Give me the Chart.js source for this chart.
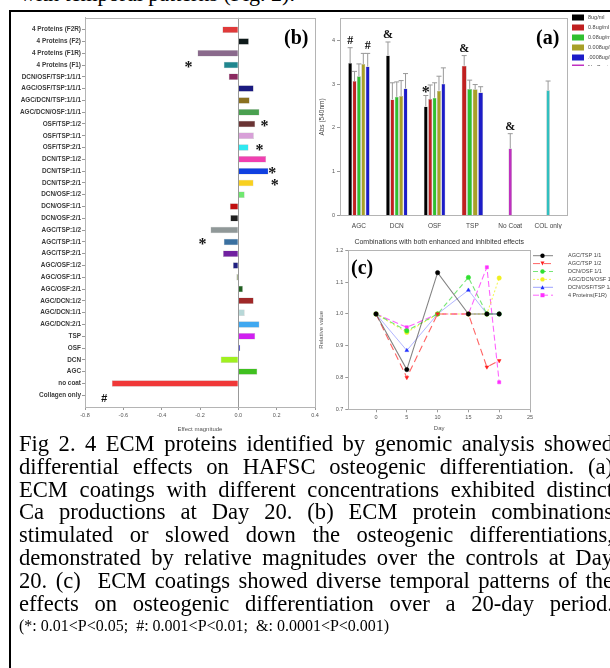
<!DOCTYPE html>
<html>
<head>
<meta charset="utf-8">
<script src="https://cdn.jsdelivr.net/npm/chart.js@4/dist/chart.umd.min.js"></script>
<style>
html, body { margin: 0; padding: 0; background: #fff; width: 610px; height: 668px; overflow: hidden; position: relative; }
.abs { position: absolute; }
canvas { display: block; }
#topline { left: 20px; top: -19px; font-family: "Liberation Serif", serif; font-size: 22px; white-space: nowrap; }
#frame { left: 9px; top: 10px; width: 700px; height: 700px; border: 2px solid #000; }
.plab { font-family: "Liberation Serif", serif; font-weight: bold; font-size: 20px; }
#caption { left: 19px; top: 433px; width: 594px; font-family: "Liberation Serif", serif; font-size: 22.6px; line-height: 22.8px; }
#caption div { text-align: justify; text-align-last: justify; white-space: nowrap; }
#caption div.small { text-align: left; text-align-last: left; font-size: 16px; }
</style>
</head>
<body>
<div class="abs" id="topline">with temporal patterns (Fig. 2).</div>
<div class="abs" id="frame"></div>
<div class="abs" style="left:12px;top:13px;"><canvas id="chartB" width="312" height="420"></canvas></div>
<div class="abs" style="left:318px;top:13px;"><canvas id="chartA" width="320" height="216"></canvas></div>
<div class="abs" style="left:318px;top:229px;"><canvas id="chartC" width="320" height="203"></canvas></div>
<div class="abs plab" style="left:284px;top:26px;">(b)</div>
<div class="abs plab" style="left:536px;top:26px;">(a)</div>
<div class="abs plab" style="left:351px;top:256px;">(c)</div>
<div class="abs" id="caption">
  <div>Fig 2. 4 ECM proteins identified by genomic analysis showed</div>
  <div>differential effects on HAFSC osteogenic differentiation. (a)</div>
  <div>ECM coatings with different concentrations exhibited distinct</div>
  <div>Ca productions at Day 20. (b) ECM protein combinations</div>
  <div>stimulated or slowed down the osteogenic differentiations,</div>
  <div>demonstrated by relative magnitudes over the controls at Day</div>
  <div>20. (c)&nbsp; ECM coatings showed diverse temporal patterns of the</div>
  <div>effects on osteogenic differentiation over a 20-day period.</div>
  <div class="small">(*: 0.01&lt;P&lt;0.05;&nbsp; #: 0.001&lt;P&lt;0.01;&nbsp; &amp;: 0.0001&lt;P&lt;0.001)</div>
</div>
<script>
// (b) effect magnitudes at day 20
const effectLabels = ['4 Proteins (F2R)', '4 Proteins (F2)', '4 Proteins (F1R)', '4 Proteins (F1)',
  'DCN/OSF/TSP:1/1/1', 'AGC/OSF/TSP:1/1/1', 'AGC/DCN/TSP:1/1/1', 'AGC/DCN/OSF:1/1/1',
  'OSF/TSP:1/2', 'OSF/TSP:1/1', 'OSF/TSP:2/1', 'DCN/TSP:1/2', 'DCN/TSP:1/1', 'DCN/TSP:2/1',
  'DCN/OSF:1/2', 'DCN/OSF:1/1', 'DCN/OSF:2/1', 'AGC/TSP:1/2', 'AGC/TSP:1/1', 'AGC/TSP:2/1',
  'AGC/OSF:1/2', 'AGC/OSF:1/1', 'AGC/OSF:2/1', 'AGC/DCN:1/2', 'AGC/DCN:1/1', 'AGC/DCN:2/1',
  'TSP', 'OSF', 'DCN', 'AGC', 'no coat', 'Collagen only'];
const effectValues = [-0.083, 0.055, -0.213, -0.076, -0.05, 0.08, 0.059, 0.11,
  0.088, 0.081, 0.053, 0.145, 0.157, 0.079, 0.033, -0.044, -0.042, -0.145, -0.076, -0.08,
  -0.028, -0.01, 0.024, 0.08, 0.033, 0.11, 0.088, 0.01, -0.092, 0.099, -0.66, 0];
const effectColors = ['#e03a3a', '#0e1a1a', '#8a6a8c', '#20868e', '#8a2a60', '#1a1a80', '#8a7020', '#4aa050',
  '#6a3434', '#d8a0d8', '#30e8f0', '#f040b0', '#1040e0', '#f8d020', '#70e870', '#c01010',
  '#202020', '#909898', '#3a70a0', '#7020a0', '#202080', '#809060', '#206020', '#a02828',
  '#b8d8d8', '#40a8f0', '#d020f0', '#3030c0', '#a0f020', '#40c020', '#f03838', '#ffffff'];
const effectTicks = [-0.8, -0.6, -0.4, -0.2, 0, 0.2, 0.4];
const effectMarks = [
  { label: '4 Proteins (F1)', x: -0.26, sym: '*' },
  { label: 'OSF/TSP:1/2', x: 0.137, sym: '*' },
  { label: 'OSF/TSP:2/1', x: 0.11, sym: '*' },
  { label: 'DCN/TSP:1/1', x: 0.177, sym: '*' },
  { label: 'DCN/TSP:2/1', x: 0.19, sym: '*' },
  { label: 'AGC/TSP:1/1', x: -0.187, sym: '*' },
  { label: 'Collagen only', x: -0.70, sym: '#' }
];

// (a) Ca production at day 20, Abs (540nm)
const coatGroups = ['AGC', 'DCN', 'OSF', 'TSP', 'No Coat', 'COL only'];
const concLabels = ['8ug/ml', '0.8ug/ml', '0.08ug/ml', '0.008ug/ml', '.0008ug/ml', 'No Coat', 'COL only'];
const abs8 = [3.48, 3.65, 2.49, null, null, null];
const abs08 = [3.07, 2.65, 2.66, 3.42, null, null];
const abs008 = [3.18, 2.71, 2.69, 2.89, null, null];
const abs0008 = [3.46, 2.73, 2.85, 2.88, null, null];
const abs00008 = [3.40, 2.90, 3.01, 2.81, null, null];
const absNoCoat = [null, null, null, null, 1.53, null];
const absCol = [null, null, null, null, null, 2.86];
const err8 = [0.35, 0.31, 0.25, null, null, null];
const err08 = [0.22, 0.38, 0.32, 0.23, null, null];
const err008 = [0.28, 0.34, 0.34, 0.20, null, null];
const err0008 = [0.24, 0.35, 0.33, 0.11, null, null];
const err00008 = [0.30, 0.34, 0.36, 0.13, null, null];
const errNoCoat = [null, null, null, null, 0.34, null];
const errCol = [null, null, null, null, null, 0.21];
const absTicks = [0, 1, 2, 3, 4];
const absMarks = [
  { group: 0, series: 0, sym: '#' }, { group: 0, series: 4, sym: '#' },
  { group: 1, series: 0, sym: '&' }, { group: 2, series: 0, sym: '*' },
  { group: 3, series: 1, sym: '&' }, { group: 4, series: 5, sym: '&' }
];

// (c) relative values over time
const days = [0, 5, 10, 15, 18, 20];
const dayTicks = [0, 5, 10, 15, 20, 25];
const relTicks = [0.7, 0.8, 0.9, 1.0, 1.1, 1.2];
const comboLabels = ['AGC/TSP 1/1', 'AGC/TSP 1/2', 'DCN/OSF 1/1', 'AGC/DCN/OSF 1/1/1', 'DCN/OSF/TSP 1/1/1', '4 Proteins(F1R)'];
const relAgcTsp11 = [1.0, 0.825, 1.13, 1.0, 1.0, 1.0];
const relAgcTsp12 = [1.0, 0.80, 1.0, 1.0, 0.833, 0.853];
const relDcnOsf11 = [1.0, 0.947, 1.0, 1.115, 1.0, 1.0];
const relAgcDcnOsf = [1.0, 0.942, 1.0, 1.0, 1.0, 1.113];
const relDcnOsfTsp = [1.0, 0.885, 1.0, 1.075, 1.0, 1.0];
const relProteinsF1R = [1.0, 0.958, 1.0, 1.0, 1.147, 0.785];

Chart.defaults.font.family = '"Liberation Sans", Arial, sans-serif';
Chart.defaults.color = '#444';
Chart.defaults.animation = false;

// grey box round the plot area
const framePlugin = {
  id: 'frame',
  beforeDatasetsDraw(chart) {
    const a = chart.chartArea, c = chart.ctx;
    c.save();
    c.strokeStyle = '#b4b4b4';
    c.lineWidth = 1;
    c.strokeRect(Math.round(a.left) + 0.5, Math.round(a.top) + 0.5, Math.round(a.right - a.left), Math.round(a.bottom - a.top));
    c.restore();
  }
};

// ---- panel (b) ----
const paddedLabels = [''].concat(effectLabels, ['']);
const paddedValues = [null].concat(effectValues, [null]);
const paddedColors = ['#fff'].concat(effectColors, ['#fff']);

const marksPluginB = {
  id: 'marksB',
  afterDatasetsDraw(chart) {
    const c = chart.ctx, xs = chart.scales.x, ys = chart.scales.y;
    c.save();
    c.fillStyle = '#111';
    c.textAlign = 'center';
    c.textBaseline = 'middle';
    effectMarks.forEach(m => {
      const i = effectLabels.indexOf(m.label) + 1;
      c.font = m.sym === '*' ? 'bold 16px "Liberation Serif"' : 'bold italic 11px "Liberation Sans"';
      c.fillText(m.sym, xs.getPixelForValue(m.x), ys.getPixelForValue(i) + (m.sym === '*' ? 3 : 4));
    });
    c.restore();
  }
};

new Chart(document.getElementById('chartB'), {
  type: 'bar',
  data: {
    labels: paddedLabels,
    datasets: [{
      data: paddedValues,
      backgroundColor: paddedColors,
      borderColor: 'rgba(0,0,0,0.25)',
      borderWidth: 0.5,
      barPercentage: 0.55,
      categoryPercentage: 1
    }]
  },
  options: {
    indexAxis: 'y',
    responsive: false,
    animation: false,
    layout: { padding: { top: 2, right: 9, left: 0, bottom: 0 } },
    plugins: { legend: { display: false }, tooltip: { enabled: false } },
    scales: {
      y: {
        type: 'category',
        offset: false,
        grid: {
          offset: false,
          drawOnChartArea: false,
          tickLength: 3,
          color: c => (c.index === 0 || c.index === paddedLabels.length - 1) ? 'rgba(0,0,0,0)' : '#999'
        },
        border: { color: '#b4b4b4' },
        ticks: { autoSkip: false, font: { size: 6.4, weight: 'bold' }, color: '#3a3a3a', padding: 1 },
        afterFit: s => { s.width = 73; }
      },
      x: {
        type: 'linear',
        min: -0.8,
        max: 0.4,
        afterBuildTicks: s => { s.ticks = effectTicks.map(v => ({ value: v })); },
        ticks: { font: { size: 5.5 }, color: '#555', padding: 2, callback: v => v.toFixed(1) },
        grid: {
          color: c => (c.tick && c.tick.value === 0) ? '#999' : 'rgba(0,0,0,0)',
          tickColor: '#999',
          tickLength: 3
        },
        border: { color: '#b4b4b4' },
        title: { display: true, text: 'Effect magnitude', font: { size: 6 }, color: '#555', padding: { top: 1, bottom: 0 } },
        afterFit: s => { s.height = 26; }
      }
    }
  },
  plugins: [framePlugin, marksPluginB]
});

// ---- panel (a) ----
const concColors = ['#000000', '#c02020', '#30c030', '#a8a028', '#1c1cc8', '#c030c0', '#30c0c0'];
const absSeries = [abs8, abs08, abs008, abs0008, abs00008, absNoCoat, absCol];
const errSeries = [err8, err08, err008, err0008, err00008, errNoCoat, errCol];

const errPluginA = {
  id: 'errA',
  afterDatasetsDraw(chart) {
    const c = chart.ctx, ys = chart.scales.y;
    c.save();
    c.strokeStyle = '#999';
    c.lineWidth = 1;
    const tops = {};
    chart.data.datasets.forEach((ds, di) => {
      const meta = chart.getDatasetMeta(di);
      meta.data.forEach((el, j) => {
        const v = ds.data[j], e = ds.errors[j];
        if (v == null || e == null) return;
        const yt = ys.getPixelForValue(v + e);
        tops[di + '_' + j] = { x: el.x, y: yt };
        c.beginPath();
        c.moveTo(el.x, el.y);
        c.lineTo(el.x, yt);
        c.moveTo(el.x - 2.5, yt);
        c.lineTo(el.x + 2.5, yt);
        c.stroke();
      });
    });
    c.fillStyle = '#111';
    c.textAlign = 'center';
    c.textBaseline = 'middle';
    absMarks.forEach(m => {
      const p = tops[m.series + '_' + m.group];
      if (!p) return;
      c.font = m.sym === '*' ? 'bold 16px "Liberation Serif"' : 'bold 12px "Liberation Serif"';
      c.fillText(m.sym, p.x, p.y - (m.sym === '*' ? 3 : 7));
    });
    c.restore();
  }
};

const legendPluginA = {
  id: 'legendA',
  afterDraw(chart) {
    const c = chart.ctx;
    c.save();
    c.beginPath();
    c.rect(250, 0, 100, 53);
    c.clip();
    c.font = '5.5px "Liberation Sans"';
    c.textBaseline = 'middle';
    c.textAlign = 'left';
    chart.data.datasets.forEach((ds, i) => {
      const y = 4.5 + i * 10;
      c.fillStyle = ds.backgroundColor;
      c.fillRect(254, y - 3, 12, 6);
      c.fillStyle = '#444';
      c.fillText(ds.label, 270, y);
    });
    c.restore();
  }
};

new Chart(document.getElementById('chartA'), {
  type: 'bar',
  data: {
    labels: coatGroups,
    datasets: absSeries.map((d, i) => ({
      label: concLabels[i],
      data: d,
      errors: errSeries[i],
      backgroundColor: concColors[i],
      borderColor: 'rgba(0,0,0,0.35)',
      borderWidth: 0.5,
      skipNull: true,
      categoryPercentage: 0.58,
      barPercentage: i < 5 ? 0.9 : 0.16
    }))
  },
  options: {
    responsive: false,
    animation: false,
    layout: { padding: { top: 2, right: 71, left: 0, bottom: 0 } },
    plugins: { legend: { display: false }, tooltip: { enabled: false } },
    scales: {
      x: {
        grid: { drawOnChartArea: false, drawTicks: false },
        border: { color: '#b4b4b4' },
        ticks: { font: { size: 6.5 }, color: '#444', padding: 7 },
        afterFit: s => { s.height = 13.3; }
      },
      y: {
        min: 0,
        max: 4.5,
        afterBuildTicks: s => { s.ticks = absTicks.map(v => ({ value: v })); },
        grid: { drawOnChartArea: false, tickLength: 3, color: '#999' },
        border: { color: '#b4b4b4' },
        ticks: { font: { size: 5.5 }, color: '#555', padding: 2 },
        title: { display: true, text: 'Abs (540nm)', font: { size: 6.5 }, color: '#444', padding: 0 },
        afterFit: s => { s.width = 22; }
      }
    }
  },
  plugins: [framePlugin, errPluginA, legendPluginA]
});

// ---- panel (c) ----
const comboSeries = [relAgcTsp11, relAgcTsp12, relDcnOsf11, relAgcDcnOsf, relDcnOsfTsp, relProteinsF1R];
const comboLine = ['rgba(90,90,90,0.75)', 'rgba(255,60,60,0.8)', 'rgba(60,220,60,0.7)', 'rgba(240,240,40,0.75)', 'rgba(60,70,255,0.5)', 'rgba(255,60,255,0.8)'];
const comboPoint = ['#000000', '#ff2020', '#30e030', '#f0f020', '#2030ff', '#ff30ff'];
const comboDash = [[], [7, 4], [5, 3], [2, 2], [], [6, 3]];
const comboShape = ['circle', 'triangle', 'circle', 'circle', 'triangle', 'rect'];
const comboRot = [0, 180, 0, 0, 0, 0];

const legendPluginC = {
  id: 'legendC',
  afterDraw(chart) {
    const c = chart.ctx;
    c.save();
    c.font = '5.5px "Liberation Sans"';
    c.textBaseline = 'middle';
    c.textAlign = 'left';
    comboLabels.forEach((lab, i) => {
      const y = 26.7 + i * 7.9;
      c.strokeStyle = comboLine[i];
      c.lineWidth = 1;
      c.setLineDash(comboDash[i]);
      c.beginPath();
      c.moveTo(215, y);
      c.lineTo(235, y);
      c.stroke();
      c.setLineDash([]);
      c.fillStyle = comboPoint[i];
      c.beginPath();
      if (comboShape[i] === 'rect') c.rect(222.5, y - 2, 4, 4);
      else if (comboShape[i] === 'triangle' && comboRot[i] === 180) { c.moveTo(222.5, y - 2); c.lineTo(226.5, y - 2); c.lineTo(224.5, y + 2); c.closePath(); }
      else if (comboShape[i] === 'triangle') { c.moveTo(222.5, y + 2); c.lineTo(226.5, y + 2); c.lineTo(224.5, y - 2); c.closePath(); }
      else c.arc(224.5, y, 2.2, 0, Math.PI * 2);
      c.fill();
      c.fillStyle = '#444';
      c.fillText(lab, 250, y);
    });
    c.restore();
  }
};

new Chart(document.getElementById('chartC'), {
  type: 'line',
  data: {
    datasets: comboSeries.map((s, i) => ({
      label: comboLabels[i],
      data: days.map((d, k) => ({ x: d, y: s[k] })),
      borderColor: comboLine[i],
      borderWidth: i === 4 ? 0.8 : 1.1,
      borderDash: comboDash[i],
      pointStyle: comboShape[i],
      rotation: comboRot[i],
      pointRadius: 2.2,
      pointBackgroundColor: comboPoint[i],
      pointBorderColor: comboPoint[i],
      pointBorderWidth: 0.5,
      tension: 0,
      fill: false
    }))
  },
  options: {
    responsive: false,
    animation: false,
    layout: { padding: { top: 0, right: 108, left: 0, bottom: 0 } },
    plugins: {
      legend: { display: false },
      tooltip: { enabled: false },
      title: {
        display: true,
        fullSize: false,
        text: 'Combinations with both enhanced and inhibited effects',
        font: { size: 7, weight: 'normal' },
        color: '#333',
        padding: { top: 9, bottom: 4 }
      }
    },
    scales: {
      x: {
        type: 'linear',
        min: -4.5,
        max: 25,
        afterBuildTicks: s => { s.ticks = dayTicks.map(v => ({ value: v })); },
        grid: { drawOnChartArea: false, tickLength: 3, color: '#999' },
        border: { color: '#b4b4b4' },
        ticks: { font: { size: 5.5 }, color: '#555', padding: 2 },
        title: { display: true, text: 'Day', font: { size: 6 }, color: '#555', padding: { top: 1, bottom: 0 } },
        afterFit: s => { s.height = 22.7; }
      },
      y: {
        type: 'linear',
        min: 0.7,
        max: 1.2,
        afterBuildTicks: s => { s.ticks = relTicks.map(v => ({ value: v })); },
        grid: { drawOnChartArea: false, tickLength: 3, color: '#999' },
        border: { color: '#b4b4b4' },
        ticks: { font: { size: 5.5 }, color: '#555', padding: 2, callback: v => v.toFixed(1) },
        title: { display: true, text: 'Relative value', font: { size: 6 }, color: '#555', padding: 0 },
        afterFit: s => { s.width = 30.3; }
      }
    }
  },
  plugins: [framePlugin, legendPluginC]
});
</script>
</body>
</html>
